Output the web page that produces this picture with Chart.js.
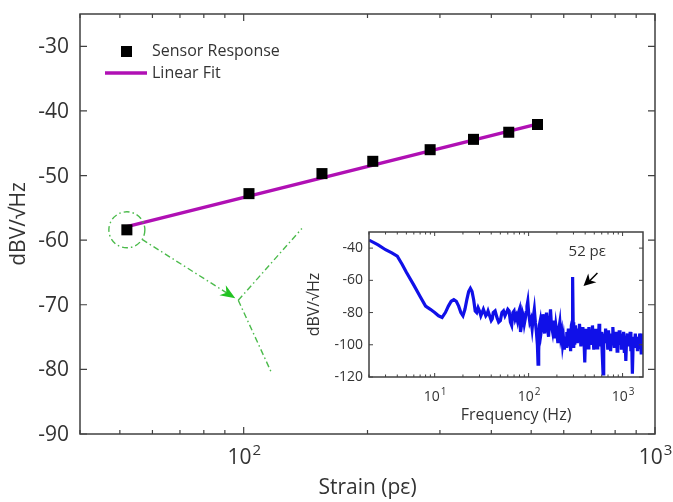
<!DOCTYPE html>
<html>
<head>
<meta charset="utf-8">
<script src="https://cdn.jsdelivr.net/npm/chart.js@4.4.1/dist/chart.umd.min.js"></script>
<style>
  html, body { margin: 0; padding: 0; background: #fff; }
  #wrap { position: relative; width: 673px; height: 502px; }
  #mainCanvas { position: absolute; left: 0; top: 0; }
  #insetCanvas { position: absolute; left: 290px; top: 220px; }
</style>
</head>
<body>
<div id="wrap">
  <canvas id="mainCanvas" width="673" height="502"></canvas>
  <canvas id="insetCanvas" width="360" height="210"></canvas>
</div>
<script>
// Main plot data: sensor response vs strain
const strainPe = [52, 103, 155, 206, 284, 362, 441, 518];
const responseDb = [-58.4, -52.8, -49.7, -47.8, -46.0, -44.4, -43.3, -42.1];
const fitStrain = [52, 520];
const fitDb = [-57.9, -42.0];

const strainMajorTicks = [100, 1000];
const strainMinorTicks = [40, 50, 60, 70, 80, 90, 200, 300, 400, 500, 600, 700, 800, 900];
const dbTicks = [-90, -80, -70, -60, -50, -40, -30];

// Inset data: spectrum
const freqHz = [2, 2.5, 3, 3.5, 4, 4.5, 5, 6, 7, 8, 9, 10, 11, 12, 13, 14, 15, 16, 17, 18, 19, 20,
  21, 22, 23, 24, 25, 26, 27, 28, 29, 30, 31, 32, 33, 34, 35, 36, 37, 38, 40, 41, 42, 44, 46, 48,
  50, 52, 54, 56, 58, 60, 62, 64, 66, 68, 70, 72, 74, 76, 78, 80, 82, 84, 86, 88, 90, 92, 94, 96,
  98, 100, 103, 106, 109, 112, 115, 118, 121, 124, 126, 128, 130, 133, 136, 139, 142, 145, 148,
  151, 155, 159, 163, 167, 171, 175, 180, 185, 190, 195, 200, 205, 210, 215, 220, 225, 230, 235,
  240, 245, 250, 255, 260, 265, 270, 275, 280, 285, 290, 294, 298, 302, 306, 310, 315, 320, 325,
  330, 336, 342, 348, 354, 360, 366, 372, 378, 384, 390, 396, 402, 408, 415, 422, 430, 438, 446,
  454, 462, 470, 478, 486, 494, 502, 510, 518, 526, 535, 544, 553, 562, 571, 580, 590, 600, 610,
  620, 630, 640, 650, 660, 672, 684, 696, 708, 720, 733, 746, 760, 774, 788, 802, 816, 830, 845,
  860, 875, 890, 906, 922, 938, 955, 972, 990, 1008, 1026, 1045, 1064, 1083, 1102, 1122, 1142,
  1163, 1184, 1205, 1227, 1249, 1272, 1295, 1318, 1342, 1366, 1391, 1416, 1442, 1468, 1495, 1522,
  1550, 1578, 1606, 1635, 1650];
const spectrumDb = [-35, -38, -41, -43, -45, -50, -55, -63, -70, -76, -78, -80, -82, -83, -80, -76, -73, -72, -73, -76, -80, -82,
  -78, -72, -67, -65, -67, -72, -79, -80, -77, -79, -82, -80, -78, -80, -82, -81, -79, -81, -85, -84, -80, -79, -83, -86,
  -85, -80, -79, -82, -80, -78, -79, -86, -88, -80, -79, -84, -82, -85, -80, -78, -92, -88, -80, -82, -87, -84, -80, -76,
  -73, -80, -86, -84, -90, -83, -78, -86, -92, -100, -112, -104, -88, -85, -92, -88, -81, -87, -93,
  -86, -80, -90, -95, -86, -78, -88, -92, -85, -96, -88, -93, -99, -90, -86, -95, -92, -100, -96,
  -103, -95, -101, -92, -97, -90, -100, -94, -104, -88, -86, -58, -86, -102, -94, -100, -88, -96, -92,
  -99, -90, -97, -87, -93, -101, -92, -98, -89, -95, -100, -111, -97, -90, -99, -93, -102, -89, -96,
  -100, -92, -98, -88, -95, -103, -93, -99, -90, -96, -102, -91, -97, -87, -94, -101, -92, -98, -108,
  -118, -100, -93, -97, -90, -99, -94, -103, -91, -97, -93, -104, -95, -99, -89, -96, -101, -93, -98,
  -92, -104, -96, -100, -91, -97, -93, -103, -95, -99, -92, -105, -96, -110, -98, -93, -101,
  -95, -100, -92, -104, -97, -118, -100, -95, -102, -93, -99, -96, -104, -95, -101, -93,
  -98, -105, -95, -100, -93];

const freqMajorTicks = [10, 100, 1000];
const freqMinorTicks = [2, 3, 4, 5, 6, 7, 8, 9, 20, 30, 40, 50, 60, 70, 80, 90,
  200, 300, 400, 500, 600, 700, 800, 900];
const spectrumTicks = [-120, -100, -80, -60, -40];

// Annotation anchors (data coordinates)
const guideTip = { x: 95.4, y: -69.0 };
const guideEnds = [{ x: 138.5, y: -58.2 }, { x: 117, y: -80.6 }];
const peakLabel = { x: 421, y: -42.3, text: '52 pε' };
const peakArrow = { from: { x: 540, y: -55.5 }, to: { x: 384, y: -63.5 } };

const FONT = '"Open Sans", sans-serif';
const TEXT = '#333';
const AXIS = '#404040';

function toPoints(xs, ys) {
  return xs.map((v, i) => ({ x: v, y: ys[i] }));
}

function drawPowerLabel(ctx, px, baseline, exp, size) {
  ctx.font = `${size}px ${FONT}`;
  const w1 = ctx.measureText('10').width;
  ctx.font = `${Math.round(size * 0.72)}px ${FONT}`;
  const w2 = ctx.measureText(String(exp)).width;
  const start = px - (w1 + w2) / 2;
  ctx.textAlign = 'left';
  ctx.textBaseline = 'alphabetic';
  ctx.font = `${size}px ${FONT}`;
  ctx.fillText('10', start, baseline);
  ctx.font = `${Math.round(size * 0.72)}px ${FONT}`;
  ctx.fillText(String(exp), start + w1 + 1, baseline - size * 0.45);
}

function drawArrowHead(ctx, tipX, tipY, fromX, fromY, len, half) {
  const ang = Math.atan2(tipY - fromY, tipX - fromX);
  const c = Math.cos(ang), s = Math.sin(ang);
  const bx = tipX - len * c, by = tipY - len * s;
  const nx = tipX - len * 0.7 * c, ny = tipY - len * 0.7 * s;
  ctx.beginPath();
  ctx.moveTo(tipX, tipY);
  ctx.lineTo(bx - half * s, by + half * c);
  ctx.lineTo(nx, ny);
  ctx.lineTo(bx + half * s, by - half * c);
  ctx.closePath();
  ctx.fill();
}

// Box, inward ticks, labels, legend and zoom guide for main chart
const mainDecor = {
  id: 'mainDecor',
  afterDraw(chart) {
    const { ctx, chartArea: a, scales: { x, y } } = chart;
    ctx.save();

    ctx.strokeStyle = AXIS;
    ctx.lineWidth = 1.5;
    ctx.strokeRect(a.left, a.top, a.right - a.left, a.bottom - a.top);

    ctx.lineWidth = 1.2;
    ctx.beginPath();
    strainMajorTicks.forEach(v => {
      const px = x.getPixelForValue(v);
      ctx.moveTo(px, a.bottom); ctx.lineTo(px, a.bottom - 7);
      ctx.moveTo(px, a.top); ctx.lineTo(px, a.top + 7);
    });
    strainMinorTicks.forEach(v => {
      const px = x.getPixelForValue(v);
      ctx.moveTo(px, a.bottom); ctx.lineTo(px, a.bottom - 4);
      ctx.moveTo(px, a.top); ctx.lineTo(px, a.top + 4);
    });
    dbTicks.forEach(v => {
      const py = y.getPixelForValue(v);
      ctx.moveTo(a.left, py); ctx.lineTo(a.left + 7, py);
      ctx.moveTo(a.right, py); ctx.lineTo(a.right - 7, py);
    });
    ctx.stroke();

    // tick labels
    ctx.fillStyle = TEXT;
    ctx.font = `21px ${FONT}`;
    ctx.textAlign = 'right';
    ctx.textBaseline = 'middle';
    dbTicks.forEach(v => ctx.fillText(String(v), a.left - 11, y.getPixelForValue(v) + 1));
    strainMajorTicks.forEach(v => {
      drawPowerLabel(ctx, x.getPixelForValue(v), a.bottom + 30, Math.round(Math.log10(v)), 21);
    });

    // axis titles
    ctx.font = `21px ${FONT}`;
    ctx.textAlign = 'center';
    ctx.textBaseline = 'alphabetic';
    ctx.fillText('Strain (pε)', (a.left + a.right) / 2, a.bottom + 60);
    ctx.save();
    ctx.translate(25, (a.top + a.bottom) / 2);
    ctx.rotate(-Math.PI / 2);
    ctx.fillText('dBV/√Hz', 0, 0);
    ctx.restore();

    // legend
    ctx.fillStyle = '#000';
    ctx.fillRect(a.left + 41, a.top + 32, 11, 11);
    ctx.strokeStyle = '#b010b4';
    ctx.lineWidth = 3.5;
    ctx.beginPath();
    ctx.moveTo(a.left + 25, a.top + 59);
    ctx.lineTo(a.left + 67, a.top + 59);
    ctx.stroke();
    ctx.fillStyle = TEXT;
    ctx.font = `16px ${FONT}`;
    ctx.textAlign = 'left';
    ctx.textBaseline = 'middle';
    ctx.fillText('Sensor Response', a.left + 72, a.top + 37);
    ctx.fillText('Linear Fit', a.left + 72, a.top + 59);

    // zoom guide
    const cx = x.getPixelForValue(strainPe[0]);
    const cy = y.getPixelForValue(responseDb[0]);
    const tx = x.getPixelForValue(guideTip.x);
    const ty = y.getPixelForValue(guideTip.y);
    const r = 18;
    ctx.strokeStyle = '#4cbb4c';
    ctx.fillStyle = '#22c322';
    ctx.lineWidth = 1.4;
    ctx.setLineDash([6, 3, 1.5, 3]);
    ctx.beginPath();
    ctx.arc(cx, cy, r, 0, Math.PI * 2);
    ctx.stroke();
    const ang = Math.atan2(ty - cy, tx - cx);
    ctx.beginPath();
    ctx.moveTo(cx + r * Math.cos(ang), cy + r * Math.sin(ang));
    ctx.lineTo(tx - 8 * Math.cos(ang), ty - 8 * Math.sin(ang));
    guideEnds.forEach(p => {
      ctx.moveTo(tx + 3, ty + 2);
      ctx.lineTo(x.getPixelForValue(p.x), y.getPixelForValue(p.y));
    });
    ctx.stroke();
    ctx.setLineDash([]);
    drawArrowHead(ctx, tx, ty, cx, cy, 15, 6);

    ctx.restore();
  }
};

const mainChart = new Chart(document.getElementById('mainCanvas'), {
  type: 'scatter',
  data: {
    datasets: [
      {
        label: 'Sensor Response',
        data: toPoints(strainPe, responseDb),
        pointStyle: 'rect',
        pointRadius: 7.8,
        backgroundColor: '#000',
        borderColor: '#000',
        borderWidth: 0,
        order: 0
      },
      {
        label: 'Linear Fit',
        data: toPoints(fitStrain, fitDb),
        showLine: true,
        borderColor: '#b010b4',
        borderWidth: 3.5,
        pointRadius: 0,
        order: 1
      }
    ]
  },
  options: {
    responsive: false,
    animation: false,
    layout: { padding: { left: 80, top: 14, right: 18, bottom: 68 } },
    plugins: { legend: { display: false }, tooltip: { enabled: false } },
    scales: {
      x: { type: 'logarithmic', min: 40, max: 1000, display: false },
      y: { type: 'linear', min: -90, max: -25, display: false }
    }
  },
  plugins: [mainDecor]
});

// Inset decorations
const insetDecor = {
  id: 'insetDecor',
  beforeDatasetsDraw(chart) {
    const { ctx, chartArea: a } = chart;
    ctx.save();
    ctx.fillStyle = '#fff';
    ctx.fillRect(a.left, a.top, a.right - a.left, a.bottom - a.top);
    ctx.restore();
  },
  afterDraw(chart) {
    const { ctx, chartArea: a, scales: { x, y } } = chart;
    ctx.save();
    ctx.strokeStyle = AXIS;
    ctx.lineWidth = 1.5;
    ctx.strokeRect(a.left, a.top, a.right - a.left, a.bottom - a.top);

    ctx.lineWidth = 1;
    ctx.beginPath();
    freqMajorTicks.forEach(v => {
      const px = x.getPixelForValue(v);
      ctx.moveTo(px, a.bottom); ctx.lineTo(px, a.bottom - 4);
      ctx.moveTo(px, a.top); ctx.lineTo(px, a.top + 4);
    });
    freqMinorTicks.forEach(v => {
      const px = x.getPixelForValue(v);
      ctx.moveTo(px, a.bottom); ctx.lineTo(px, a.bottom - 2.5);
      ctx.moveTo(px, a.top); ctx.lineTo(px, a.top + 2.5);
    });
    spectrumTicks.forEach(v => {
      const py = y.getPixelForValue(v);
      ctx.moveTo(a.left, py); ctx.lineTo(a.left + 4, py);
      ctx.moveTo(a.right, py); ctx.lineTo(a.right - 4, py);
    });
    ctx.stroke();

    ctx.fillStyle = TEXT;
    ctx.font = `14px ${FONT}`;
    ctx.textAlign = 'right';
    ctx.textBaseline = 'middle';
    spectrumTicks.forEach(v => ctx.fillText(String(v), a.left - 6, y.getPixelForValue(v)));
    freqMajorTicks.forEach(v => {
      drawPowerLabel(ctx, x.getPixelForValue(v), a.bottom + 24, Math.round(Math.log10(v)), 14);
    });

    ctx.font = `16px ${FONT}`;
    ctx.textAlign = 'center';
    ctx.textBaseline = 'alphabetic';
    ctx.fillText('Frequency (Hz)', (a.left + a.right) / 2 + 10, a.bottom + 43);
    ctx.save();
    ctx.translate(29, (a.top + a.bottom) / 2);
    ctx.rotate(-Math.PI / 2);
    ctx.fillText('dBV/√Hz', 0, 0);
    ctx.restore();

    // peak label and arrow
    ctx.font = `15px ${FONT}`;
    ctx.textBaseline = 'middle';
    ctx.fillText(peakLabel.text, x.getPixelForValue(peakLabel.x), y.getPixelForValue(peakLabel.y));
    const fx = x.getPixelForValue(peakArrow.from.x), fy = y.getPixelForValue(peakArrow.from.y);
    const tx = x.getPixelForValue(peakArrow.to.x), ty = y.getPixelForValue(peakArrow.to.y);
    ctx.strokeStyle = '#000';
    ctx.fillStyle = '#000';
    ctx.lineWidth = 1.5;
    ctx.beginPath();
    ctx.moveTo(fx, fy);
    ctx.lineTo(tx + 5, ty - 4);
    ctx.stroke();
    drawArrowHead(ctx, tx, ty, fx, fy, 12, 6);
    ctx.restore();
  }
};

const insetChart = new Chart(document.getElementById('insetCanvas'), {
  type: 'scatter',
  data: {
    datasets: [{
      label: 'Spectrum',
      data: toPoints(freqHz, spectrumDb),
      showLine: true,
      borderColor: '#1010e8',
      borderWidth: 3.2,
      pointRadius: 0,
      tension: 0
    }]
  },
  options: {
    responsive: false,
    animation: false,
    layout: { padding: { left: 79, top: 12, right: 7, bottom: 53 } },
    plugins: { legend: { display: false }, tooltip: { enabled: false } },
    scales: {
      x: { type: 'logarithmic', min: 2, max: 1650, display: false },
      y: { type: 'linear', min: -120, max: -30, display: false }
    }
  },
  plugins: [insetDecor]
});
</script>
</body>
</html>
